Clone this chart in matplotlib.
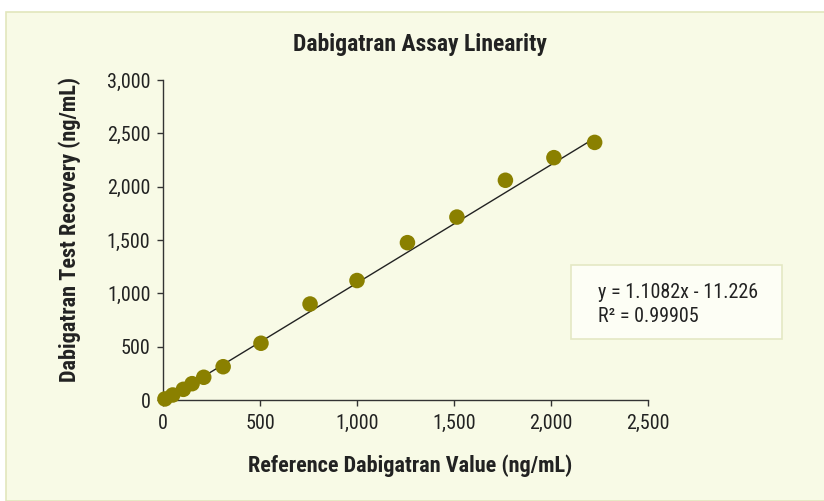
import numpy as np
import matplotlib
matplotlib.use("Agg")
import matplotlib.pyplot as plt
from matplotlib.patches import Rectangle
from matplotlib.ticker import FuncFormatter

# data
ref_value = [10, 50, 105, 150, 210, 310, 505, 758, 1000, 1260, 1515, 1765, 2015, 2225]
recovery = [10, 47, 100, 153, 213, 312, 532, 900, 1120, 1475, 1715, 2060, 2272, 2415]
slope = 1.1082
intercept = -11.226
r2 = 0.99905

plt.rcParams['font.family'] = ['Roboto Condensed', 'Liberation Sans Narrow', 'DejaVu Sans']

fig = plt.figure(figsize=(8.24, 5.01), dpi=100)
fig.patch.set_facecolor('white')

# light panel behind the chart
fig.patches.append(Rectangle((6 / 824, 0), 1, 1 - 12 / 501, transform=fig.transFigure,
                             facecolor='#f8fae6', edgecolor='#e2e6bc', linewidth=1.2, zorder=-1))

ax = fig.add_axes([163 / 824, 1 - 400 / 501, (648 - 163) / 824, (400 - 80) / 501])
ax.set_facecolor('none')

xs = np.array([0, max(ref_value) - 10])
ax.plot(xs, slope * xs + intercept, color='#222222', linewidth=1.0, zorder=2)
ax.scatter(ref_value, recovery, s=125, color='#8a8000', edgecolor='none', zorder=3, clip_on=False)

ax.set_xlim(0, 2500)
ax.set_ylim(0, 3000)
ax.set_xticks(np.arange(0, 2501, 500))
ax.set_yticks(np.arange(0, 3001, 500))
fmt = FuncFormatter(lambda v, p: f'{int(v):,}')
ax.xaxis.set_major_formatter(fmt)
ax.yaxis.set_major_formatter(fmt)

for s in ['top', 'right']:
    ax.spines[s].set_visible(False)
for s in ['left', 'bottom']:
    ax.spines[s].set_color('#333333')
    ax.spines[s].set_linewidth(1.0)
ax.tick_params(direction='out', length=4, width=1, color='#333333',
               labelsize=14.5, labelcolor='#222222')
ax.tick_params(axis='x', pad=6)
ax.tick_params(axis='y', pad=5)

fig.text(420 / 824, 1 - 44 / 501, 'Dabigatran Assay Linearity', ha='center', va='center',
         fontsize=17, fontweight='bold', color='#222222')
fig.text(410 / 824, 1 - 466 / 501, 'Reference Dabigatran Value (ng/mL)', ha='center', va='center',
         fontsize=16, fontweight='bold', color='#222222')
fig.text(70 / 824, 1 - 230 / 501, 'Dabigatran Test Recovery (ng/mL)', ha='center', va='center',
         rotation=90, fontsize=16, fontweight='bold', color='#222222')

# trendline equation box
fig.patches.append(Rectangle((571 / 824, 1 - 339 / 501), (782 - 571) / 824, (339 - 265) / 501,
                             transform=fig.transFigure, facecolor='#fdfef5',
                             edgecolor='#e4e8c4', linewidth=1.2, zorder=1))
fig.text(598 / 824, 1 - 293 / 501, f'y = {slope}x - {abs(intercept)}', ha='left', va='center',
         fontsize=14.5, color='#222222', zorder=2)
fig.text(598 / 824, 1 - 316 / 501, f'R² = {r2}', ha='left', va='center',
         fontsize=14.5, color='#222222', zorder=2)

fig.savefig('out.png', dpi=100)
